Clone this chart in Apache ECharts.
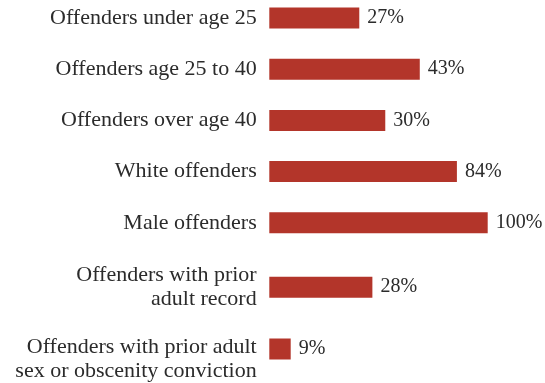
<!DOCTYPE html>
<html>
<head>
<meta charset="utf-8">
<script src="https://cdn.jsdelivr.net/npm/echarts@6/dist/echarts.min.js"></script>
<style>
html,body{margin:0;padding:0;background:#fff;}
#chart{width:545px;height:383px;}
</style>
</head>
<body>
<div id="chart"></div>
<script>
// Categories (top to bottom)
const categories = [
  "Offenders under age 25",
  "Offenders age 25 to 40",
  "Offenders over age 40",
  "White offenders",
  "Male offenders",
  "Offenders with prior\nadult record",
  "Offenders with prior adult\nsex or obscenity conviction"
];
// Printed value labels (%)
const labelValues = [27, 43, 30, 84, 100, 28, 9];
// Bar lengths as drawn in the picture (relative to the 100% bar)
const barValues = [41.2, 68.9, 53.1, 85.9, 100, 47.2, 9.8];

const FONT = "Liberation Serif";
const BAR_COLOR = "#b3352a";
const TEXT_COLOR = "#2b2b2b";

const splitAt = 5;
const groups = [
  { cats: categories.slice(0, splitAt), vals: barValues.slice(0, splitAt), labs: labelValues.slice(0, splitAt) },
  { cats: categories.slice(splitAt), vals: barValues.slice(splitAt), labs: labelValues.slice(splitAt) }
];

const grids = [
  { left: 269.3, width: 218.4, top: 18, height: 204.8 },
  { left: 269.3, width: 218.4, top: 287.2, height: 69 }
];

const lastCat = categories[categories.length - 1];
const textTok = { fontFamily: FONT, fontSize: 22, color: TEXT_COLOR, lineHeight: 24 };

const option = {
  animation: false,
  backgroundColor: "#fff",
  textStyle: { fontFamily: FONT },
  grid: grids,
  xAxis: grids.map((g, i) => ({
    type: "value", gridIndex: i, min: 0, max: 100,
    show: false
  })),
  yAxis: groups.map((g, i) => ({
    type: "category", gridIndex: i, data: g.cats, inverse: true,
    boundaryGap: false,
    axisLine: { show: false }, axisTick: { show: false }, splitLine: { show: false },
    axisLabel: {
      margin: 12.6, fontFamily: FONT, fontSize: 22, color: TEXT_COLOR,
      align: "right", lineHeight: 24,
      // the last label block sits slightly below its bar in the reference
      formatter: (v) => v === lastCat
        ? "{s| }\n" + v.split("\n").map(l => "{a|" + l + "}").join("\n")
        : v,
      rich: {
        s: { fontSize: 2, lineHeight: 20 },
        a: textTok
      }
    }
  })),
  series: groups.map((g, i) => ({
    type: "bar", xAxisIndex: i, yAxisIndex: i,
    barWidth: 21,
    data: g.vals,
    itemStyle: { color: BAR_COLOR },
    label: {
      show: true, position: "right", distance: 8,
      fontFamily: FONT, fontSize: 20, color: TEXT_COLOR,
      formatter: (p) => g.labs[p.dataIndex] + "%"
    }
  }))
};

const chart = echarts.init(document.getElementById("chart"), null, { renderer: "canvas" });
chart.setOption(option);
</script>
</body>
</html>
